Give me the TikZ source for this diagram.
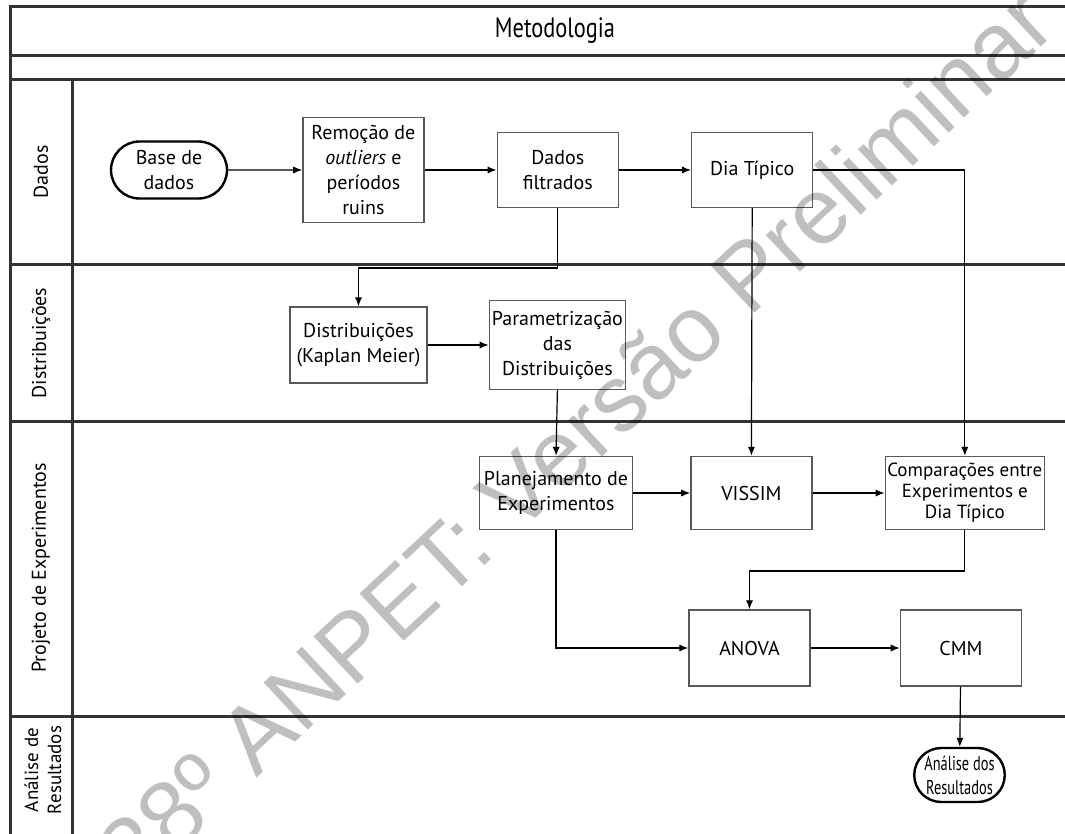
\documentclass[tikz,border=0pt]{standalone}
\usepackage{fontspec}
\setmainfont{PT Sans}
\newfontfamily\narrowfont{PT Sans}[FakeStretch=0.8]
\newfontfamily\slimfont{PT Sans}[FakeStretch=0.72]
\newfontfamily\markfont{Liberation Sans}
\usepackage{xcolor}
\colorlet{colorLane}{black!80}
\colorlet{colorBox}{black!65}
\colorlet{colorMark}{black}
\usetikzlibrary{arrows.meta, positioning, shapes.misc}
\tikzset{
  lane/.style={line width=1.5pt, colorLane},
  task/.style={draw=colorBox, line width=0.7pt, rectangle, align=center, minimum width=60.5pt, minimum height=37.5pt, inner sep=1pt},
  terminal/.style={draw=black, line width=1.2pt, rounded rectangle, align=center, inner sep=1pt},
  lanetitle/.style={rotate=90, align=center}
}

\begin{document}
\begin{tikzpicture}[x=0.5pt, y=-0.5pt, >={Latex[length=4.5pt, width=3.6pt]}, node distance=36pt, font=\fontsize{10}{12.5}\selectfont]
\useasboundingbox (0,0) rectangle (1065,834);
\clip (0,0) rectangle (1065,834);
\fill[white] (0,0) rectangle (1065,834);
\draw[lane] (1065,7) -- (10,7) -- (10,834);
\draw[lane] (10,56) -- (1065,56);
\draw[lane] (10,80) -- (1065,80);
\draw[lane] (72,80) -- (72,834);
\draw[lane] (10,265) -- (1065,265);
\draw[lane] (10,421) -- (1065,421);
\draw[lane] (10,716) -- (1065,716);
\node (title) at (555,31) {\fontsize{14}{16}\narrowfont Metodologia};
\node[lanetitle] (ldados) at (41,172) {Dados};
\node[lanetitle] (ldist) at (41,343) {Distribuições};
\node[lanetitle] (lproj) at (41,568) {Projeto de Experimentos};
\node[lanetitle, font=\fontsize{9.5}{11.5}\selectfont] (lanal) at (43,770) {Análise de\\Resultados};
\node[terminal, minimum width=60pt, minimum height=28.5pt] (base) at (169,170) {Base de\\dados};
\node[task, right=37pt of base, minimum height=52.5pt] (rem) {Remoção de\\\textit{outliers} e\\períodos\\ruins};
\node[task, right=36pt of rem] (filt) {Dados\\filtrados};
\node[task, right=36pt of filt] (dia) {Dia Típico};
\node[task, minimum width=68.5pt, minimum height=38pt] (kap) at (358.5,345) {Distribuições\\(Kaplan Meier)};
\node[task, right=30.5pt of kap, minimum width=68pt, minimum height=44.5pt] (param) {Parametrização\\das\\Distribuições};
\node[task, minimum width=76.5pt, minimum height=36.5pt] (plan) at (556,493) {Planejamento de\\Experimentos};
\node[task, right=28.5pt of plan, minimum height=36.5pt] (vissim) {VISSIM};
\node[task, right=36pt of vissim, minimum width=77.5pt, minimum height=36.5pt, font=\fontsize{9.5}{10.5}\selectfont] (comp) {Comparações entre\\Experimentos e\\Dia Típico};
\node[task, minimum height=38pt] (anova) at (749.5,648) {ANOVA};
\node[task, right=44.5pt of anova, minimum height=38pt] (cmm) {CMM};
\node[terminal, minimum width=42pt, minimum height=27pt, font=\fontsize{10}{12}\slimfont] (res) at (959.5,775) {Análise dos\\Resultados};
\coordinate (kbend) at (0,268);
\coordinate (abend) at (0,571);
\draw[->, colorMark, line width=0.6pt] (base) -- (rem);
\draw[->, colorMark, line width=0.6pt] (rem) -- (filt);
\draw[->, colorMark, line width=0.6pt] (filt) -- (dia);
\draw[->, colorMark, line width=0.6pt] (filt.south) -- (filt.south |- kbend) -| (kap.north);
\draw[->, colorMark, line width=0.6pt] (kap) -- (param);
\draw[->, colorMark, line width=0.6pt] (param.south) -- (plan.north);
\draw[->, colorMark, line width=0.6pt] (dia.south) -- (vissim.north);
\draw[->, colorMark, line width=0.6pt] (dia.east) -| (comp.north);
\draw[->, colorMark, line width=0.6pt] (plan) -- (vissim);
\draw[->, colorMark, line width=0.6pt] (vissim) -- (comp);
\draw[->, colorMark, line width=0.6pt] (comp.south) -- (comp.south |- abend) -| (anova.north);
\draw[->, colorMark, line width=0.6pt] (plan.south) |- (anova.west);
\draw[->, colorMark, line width=0.6pt] (anova) -- (cmm);
\draw[->, colorMark, line width=0.6pt] (cmm) -- (res);
\node[rotate=43, text=black, text opacity=0.25, font=\fontsize{47}{50}\markfont] (mark) at (575,436) {38º ANPET: Versão Preliminar};
\end{tikzpicture}
\end{document}
